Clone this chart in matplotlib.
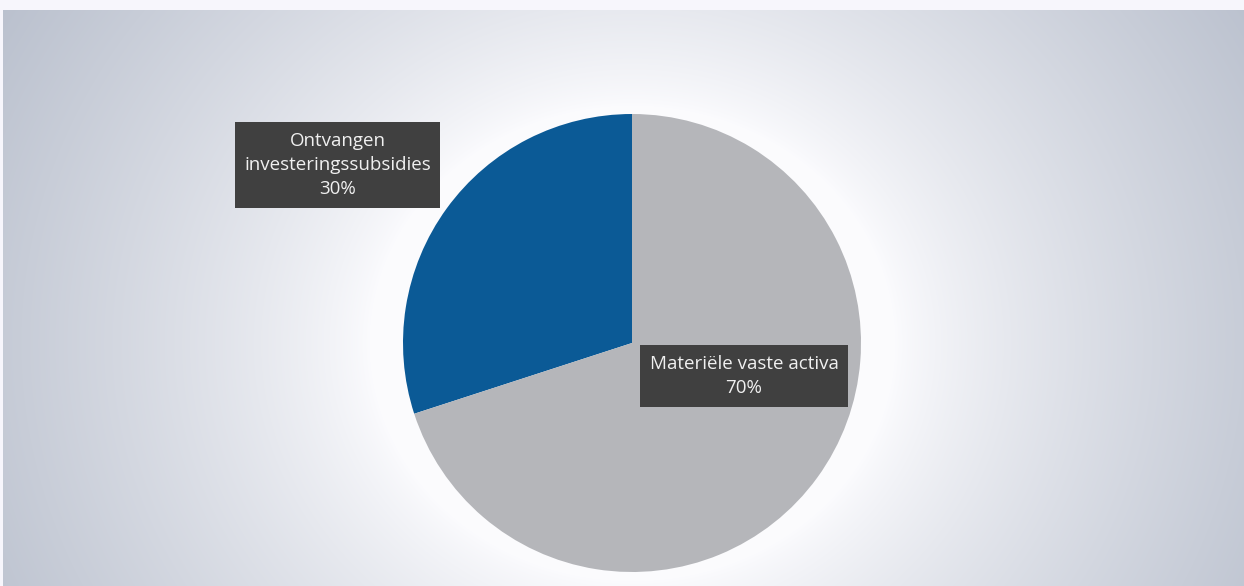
import numpy as np
import matplotlib
matplotlib.use("Agg")
import matplotlib.pyplot as plt

labels = ["Ontvangen\ninvesteringssubsidies", "Materiële vaste activa"]
values = [30, 70]
colors = ["#0b5a96", "#b5b6ba"]

W, H = 1244, 586
fig = plt.figure(figsize=(W / 100, H / 100), dpi=100)
fig.patch.set_facecolor("#f7f6fc")

# background radial gradient
bg = fig.add_axes([3 / W, 0, 1 - 3 / W, (H - 10) / H])
bg.set_axis_off()
yy, xx = np.mgrid[0:576, 0:1241]
cx, cy = 629, 333
r = np.sqrt(((xx - cx) / 1.05) ** 2 + ((yy - cy) / 0.95) ** 2)
t = np.clip((r - 250) / 560, 0, 1) ** 0.8
c0 = np.array([0.985, 0.985, 0.995])
c1 = np.array([0.68, 0.71, 0.77])
img = c0[None, None, :] * (1 - t[..., None]) + c1[None, None, :] * t[..., None]
bg.imshow(img, aspect="auto", extent=[0, 1, 0, 1], origin="upper")
bg.set_xlim(0, 1)
bg.set_ylim(0, 1)

R = 229
cxp, cyp = 632, 343
ax = fig.add_axes([(cxp - R) / W, (H - cyp - R) / H, 2 * R / W, 2 * R / H])
ax.set_axis_off()
ax.pie(values, colors=colors, startangle=90, counterclock=True, radius=1,
       wedgeprops=dict(linewidth=0))
ax.set_xlim(-1, 1)
ax.set_ylim(-1, 1)

pos = [(-1.286, 0.777), (0.489, -0.144)]
for lab, v, (x, y) in zip(labels, values, pos):
    ax.text(x, y, f"{lab}\n{v}%", ha="center", va="center", color="#f0f0f0",
            fontsize=13.5, family="Open Sans", linespacing=1.45, clip_on=False,
            bbox=dict(boxstyle="square,pad=0.5", facecolor="#404040",
                      edgecolor="none"))

fig.savefig("out.png", dpi=100)
